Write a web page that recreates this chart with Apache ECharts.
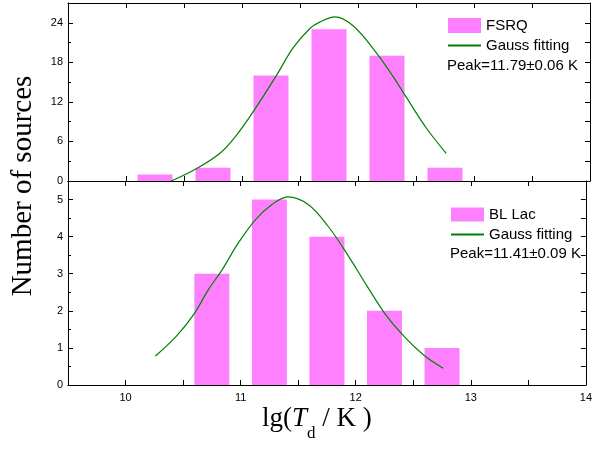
<!DOCTYPE html>
<html>
<head>
<meta charset="utf-8">
<script src="https://cdn.jsdelivr.net/npm/echarts@6/dist/echarts.min.js"></script>
<style>
  html, body { margin: 0; padding: 0; background: #fff; }
  #chart { width: 595px; height: 452px; }
</style>
</head>
<body>
<div id="chart"></div>
<script>
// bin centres and counts
const fsrqCenters = [10.25, 10.75, 11.25, 11.75, 12.25, 12.75];
const fsrqCounts = [1, 2, 16, 23, 19, 2];
const blLacCenters = [10.75, 11.25, 11.75, 12.25, 12.75];
const blLacCounts = [3, 5, 4, 2, 1];

// gauss fit curves
const fsrqFitX = [10.39, 10.61, 10.81, 10.95, 11.10, 11.30, 11.44, 11.59, 11.67, 11.80, 11.96, 12.16, 12.30, 12.42, 12.59, 12.76];
const fsrqFitY = [0, 1.9, 4.2, 6.9, 10.6, 16.1, 20.2, 23.2, 24.1, 24.9, 23.5, 19.4, 15.9, 12.6, 8.0, 4.2];
const blLacFitX = [10.26, 10.44, 10.59, 10.72, 10.84, 10.98, 11.13, 11.27, 11.41, 11.59, 11.76, 11.93, 12.10, 12.25, 12.42, 12.59, 12.76];
const blLacFitY = [0.78, 1.31, 1.89, 2.57, 3.11, 3.83, 4.46, 4.86, 5.07, 4.86, 4.28, 3.51, 2.66, 1.94, 1.31, 0.81, 0.45];

const xTicks = [10, 11, 12, 13, 14];

const SANS = '"Liberation Sans", Arial, sans-serif';
const SERIF = '"Liberation Serif", "Times New Roman", serif';
const zip = (xs, ys) => xs.map((x, i) => [x, ys[i]]);

function xAxis(gridIndex, position, labels) {
  return {
    type: "value", gridIndex, position, min: 9.5, max: 14, interval: 0.5,
    axisLine: { show: true, onZero: false, lineStyle: { color: "#000", width: 1 } },
    axisTick: { show: true, inside: true, length: 5, lineStyle: { color: "#000" } },
    axisLabel: {
      show: labels, margin: 7, color: "#000", fontSize: 11, fontFamily: SANS,
      formatter: v => xTicks.includes(v) ? String(v) : ""
    },
    splitLine: { show: false }
  };
}

function yAxis(gridIndex, position, max, interval, labels) {
  return {
    type: "value", gridIndex, position, min: 0, max, interval,
    axisLine: { show: true, onZero: false, lineStyle: { color: "#000", width: 1 } },
    axisTick: { show: true, inside: true, length: 5, lineStyle: { color: "#000" } },
    minorTick: { show: labels, splitNumber: 2, length: 3, lineStyle: { color: "#000" } },
    axisLabel: { show: labels, showMaxLabel: false, margin: 5, color: "#000", fontSize: 11, fontFamily: SANS },
    splitLine: { show: false }
  };
}

function fitLine(name, xi, yi, data) {
  return {
    name, type: "line", xAxisIndex: xi, yAxisIndex: yi,
    symbol: "none", smooth: 0.35,
    lineStyle: { color: "#008000", width: 1.2 },
    itemStyle: { color: "#008000" }, data
  };
}

const legendText = { color: "#000", fontSize: 15, fontFamily: SANS };
const lineLegendItem = { name: "Gauss fitting", itemStyle: { opacity: 0 } };

const chart = echarts.init(document.getElementById("chart"), null, { renderer: "canvas" });
chart.setOption({
  animation: false,
  grid: [
    { left: 68, right: 5, top: 3, height: 178 },
    { left: 68, right: 5, top: 181, height: 204 }
  ],
  xAxis: [
    xAxis(0, "bottom", false),
    xAxis(0, "top", false),
    xAxis(1, "top", false),
    xAxis(1, "bottom", true)
  ],
  yAxis: [
    yAxis(0, "left", 27, 6, true),
    yAxis(0, "right", 27, 3, false),
    yAxis(1, "left", 5.5, 1, true),
    yAxis(1, "right", 5.5, 0.5, false)
  ],
  legend: [
    {
      left: 447, top: 18, orient: "vertical", padding: 0, itemGap: 5,
      itemWidth: 33, itemHeight: 15, selectedMode: false, textStyle: legendText,
      data: [{ name: "FSRQ", icon: "rect" }, lineLegendItem]
    },
    {
      left: 450, top: 207, orient: "vertical", padding: 0, itemGap: 5,
      itemWidth: 33, itemHeight: 14, selectedMode: false, textStyle: legendText,
      data: [{ name: "BL Lac", icon: "rect" }, lineLegendItem]
    }
  ],
  series: [
    {
      name: "FSRQ", type: "bar", xAxisIndex: 0, yAxisIndex: 0, barWidth: 35,
      itemStyle: { color: "#ff80ff" }, data: zip(fsrqCenters, fsrqCounts)
    },
    fitLine("Gauss fitting", 0, 0, zip(fsrqFitX, fsrqFitY)),
    {
      name: "BL Lac", type: "bar", xAxisIndex: 3, yAxisIndex: 2, barWidth: 35,
      itemStyle: { color: "#ff80ff" }, data: zip(blLacCenters, blLacCounts)
    },
    fitLine("Gauss fitting", 3, 2, zip(blLacFitX, blLacFitY))
  ],
  graphic: [
    {
      type: "text", x: 447, y: 66,
      style: { text: "Peak=11.79±0.06 K", font: "15px " + SANS, fill: "#000", align: "left", verticalAlign: "middle" }
    },
    {
      type: "text", x: 450, y: 254,
      style: { text: "Peak=11.41±0.09 K", font: "15px " + SANS, fill: "#000", align: "left", verticalAlign: "middle" }
    },
    {
      type: "text", x: 23, y: 186, rotation: Math.PI / 2,
      style: { text: "Number of sources", font: "29px " + SERIF, fill: "#000", align: "center", verticalAlign: "middle" }
    },
    {
      type: "text", x: 262, y: 405,
      style: {
        text: "{n|lg(}{i|T}{s|d}{n| / K )}", align: "left", verticalAlign: "top",
        rich: {
          n: { fontSize: 27, fontFamily: SERIF, lineHeight: 27, verticalAlign: "top", fill: "#000" },
          i: { fontSize: 27, fontFamily: SERIF, fontStyle: "italic", lineHeight: 27, verticalAlign: "top", fill: "#000" },
          s: { fontSize: 17, fontFamily: SERIF, lineHeight: 17, padding: [20, 0, 0, 0], verticalAlign: "top", fill: "#000" }
        }
      }
    }
  ]
});
</script>
</body>
</html>
